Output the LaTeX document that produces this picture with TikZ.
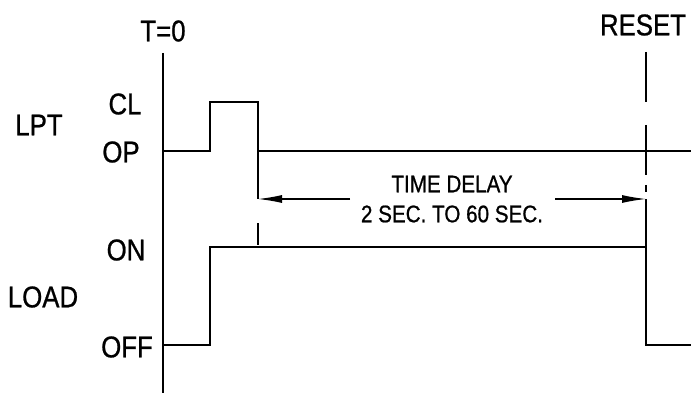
\documentclass[tikz,border=0pt]{standalone}
\usepackage{fontspec}
\setmainfont{Liberation Sans}[FakeStretch=0.86,FakeBold=0.8]
\usetikzlibrary{arrows.meta}

\tikzset{
  lbl/.style={font=\fontsize{30}{32}\selectfont, inner sep=0pt},
  note/.style={font=\fontsize{24}{26}\selectfont, inner sep=0pt},
  sig/.style={line width=1.4pt},
  ext/.style={line width=1.2pt},
  dim/.style={line width=1.2pt, -{Latex[length=24pt,width=8pt]}},
}

\begin{document}
\begin{tikzpicture}[x=1pt,y=-1pt]
  \useasboundingbox (0,0) rectangle (691,393);
  \node[lbl] (t0) at (163,31) {T=0};
  \node[lbl] (reset) at (643,25) {RESET};
  \node[lbl] (lpt) at (39,125) {LPT};
  \node[lbl] (cl) at (125,104) {CL};
  \node[lbl] (op) at (121,152) {OP};
  \node[lbl] (load) at (43,297) {LOAD};
  \node[lbl] (on) at (126,250) {ON};
  \node[lbl] (off) at (127,347) {OFF};
  \node[note] (delay) at (452,184) {TIME DELAY};
  \node[note] (range) at (452,214) {2 SEC. TO 60 SEC.};
  % time marks
  \coordinate (a0) at (163,53);
  \coordinate (a1) at (163,393);
  \coordinate (tl) at (258,199);
  \coordinate (tr) at (646,199);
  \coordinate (dl) at (350,199);
  \coordinate (dr) at (555,199);
  \draw[sig] (a0)--(a1);
  % LPT
  \draw[sig] (163,151) -- (210,151) -- (210,102) -- (258,102) -- (258,151) -- (691,151);
  \draw[ext] (258,151)--(tl);
  \draw[ext] (258,223)--(258,245);
  % RESET
  \draw[ext] (646,52)--(646,102);
  \draw[ext] (646,125)--(646,175);
  \draw[ext] (646,185)--(646,192);
  \draw[ext] (tr)--(646,247);
  % delay
  \draw[dim] (dl)--(tl);
  \draw[dim] (dr)--(tr);
  % LOAD
  \draw[sig] (163,345) -- (210,345) -- (210,247) -- (646,247) -- (646,345) -- (691,345);
\end{tikzpicture}
\end{document}
